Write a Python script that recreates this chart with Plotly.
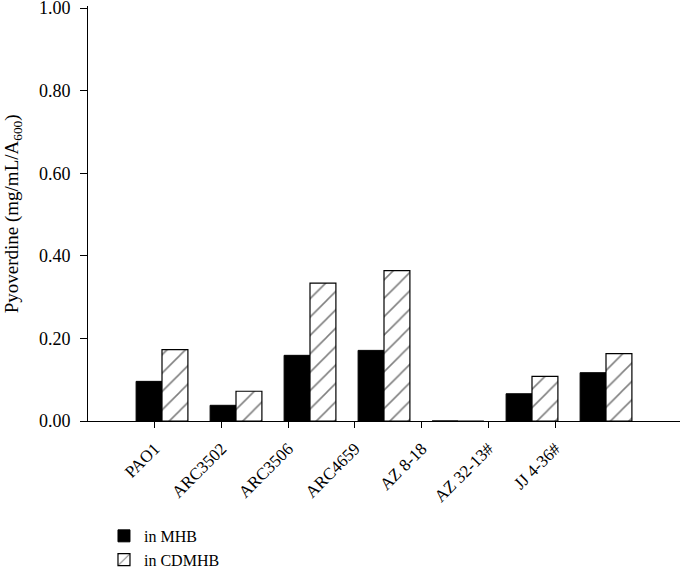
import plotly.graph_objects as go

categories = ["PAO1", "ARC3502", "ARC3506", "ARC4659", "AZ 8-18", "AZ 32-13#", "JJ 4-36#"]
mhb = [0.096, 0.038, 0.159, 0.171, 0.0, 0.066, 0.117]
cdmhb = [0.173, 0.072, 0.334, 0.364, 0.0, 0.108, 0.163]
y_ticks = [0.0, 0.2, 0.4, 0.6, 0.8, 1.0]
y_title = "Pyoverdine (mg/mL/A<sub>600</sub>)"

FONT = "Liberation Serif, Times New Roman, serif"

fig = go.Figure()
fig.add_trace(go.Bar(
    x=categories, y=mhb, name="in MHB",
    marker=dict(color="black", line=dict(color="black", width=1)),
    xaxis="x", yaxis="y",
))
fig.add_trace(go.Bar(
    x=categories, y=cdmhb, name="in CDMHB",
    marker=dict(color="white", line=dict(color="black", width=1.2),
                pattern=dict(shape="/", fgcolor="black", bgcolor="white", size=13, solidity=0.12)),
    xaxis="x", yaxis="y",
))
# invisible trace to carry the tick-label axis
fig.add_trace(go.Scatter(x=categories, y=[None]*len(categories), xaxis="x2", yaxis="y",
                         showlegend=False, hoverinfo="skip", mode="markers"))

fig.update_layout(
    width=680, height=568,
    margin=dict(l=88, r=0, t=6, b=147, autoexpand=False),
    paper_bgcolor="white", plot_bgcolor="white",
    font=dict(family=FONT, color="black", size=18),
    barmode="group", bargap=0.3, bargroupgap=0.0,
    xaxis=dict(type="category", range=[-1, 7], showticklabels=False, ticks="",
               showline=False, showgrid=False, zeroline=False, domain=[0, 1], automargin=False),
    xaxis2=dict(type="category", overlaying="x", anchor="y", side="bottom",
                range=[-1, 7.87], showline=True, linecolor="black", linewidth=1,
                ticks="outside", ticklen=6, tickcolor="black", tickangle=-45,
                ticklabelstandoff=4, ticklabeloverflow="allow",
                tickfont=dict(family=FONT, size=17, color="black"),
                showgrid=False, zeroline=False, domain=[0, 1], automargin=False),
    yaxis=dict(range=[0, 1.005], tickmode="linear", tick0=y_ticks[0], dtick=y_ticks[1] - y_ticks[0],
               tickformat=".2f", ticklabeloverflow="allow",
               showline=True, linecolor="black", linewidth=1,
               ticks="outside", ticklen=7, tickcolor="black", ticklabelstandoff=6,
               tickfont=dict(family=FONT, size=18, color="black"),
               showgrid=False, zeroline=False, automargin=False),
    annotations=[dict(text=y_title, textangle=-90, xref="paper", yref="paper",
                      x=-0.127, y=0.5, xanchor="center", yanchor="middle", showarrow=False,
                      font=dict(family=FONT, size=19, color="black"))],
    legend=dict(x=0.027, y=-0.236, xanchor="left", yanchor="top",
                font=dict(family=FONT, size=16, color="black"),
                tracegroupgap=0, itemwidth=30, bgcolor="rgba(0,0,0,0)"),
    showlegend=True,
)

fig.write_html("out.html", config={"displayModeBar": False},
               post_script="document.body.style.margin='0';document.body.style.padding='0';")
